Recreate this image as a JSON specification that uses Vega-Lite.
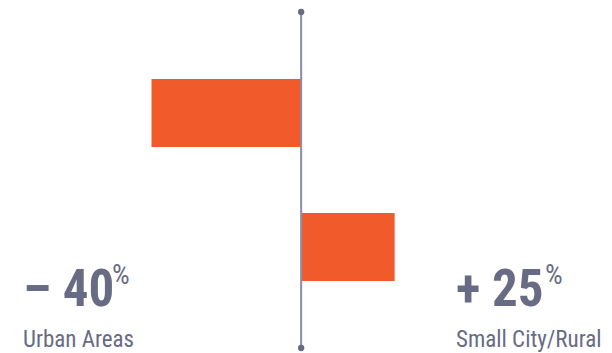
{
  "$schema": "https://vega.github.io/schema/vega-lite/v6.json",
  "width": 612,
  "height": 336,
  "autosize": {"type": "none"},
  "padding": {"top": 12, "left": 0, "right": 0, "bottom": 5},
  "background": "#ffffff",
  "config": {
    "view": {"stroke": null},
    "text": {"font": "Roboto Condensed, Liberation Sans Narrow, sans-serif", "color": "#686b84"}
  },
  "data": {
    "values": [
      {"area": "Urban Areas", "change": -40},
      {"area": "Small City/Rural", "change": 25}
    ]
  },
  "layer": [
    {
      "mark": {"type": "bar", "color": "#f15a2a"},
      "encoding": {
        "x": {"field": "change", "type": "quantitative", "scale": {"domain": [-80.5, 83.1], "nice": false, "zero": false}, "axis": null},
        "y": {"field": "area", "type": "nominal", "sort": ["Urban Areas", "Small City/Rural"], "scale": {"paddingInner": 0.4925, "paddingOuter": 0.5, "align": 0.5}, "axis": null}
      }
    },
    {
      "data": {"values": [{}]},
      "encoding": {
        "x": {"datum": 0, "type": "quantitative", "scale": {"domain": [-80.5, 83.1], "nice": false, "zero": false}, "axis": null}
      },
      "layer": [
        {
          "mark": {"type": "rule", "color": "#8a8ea6", "strokeWidth": 2},
          "encoding": {
            "y": {"datum": 0, "type": "quantitative", "scale": {"domain": [0, 1], "nice": false}, "axis": null},
            "y2": {"datum": 1}
          }
        },
        {
          "mark": {"type": "point", "filled": true, "color": "#666a85", "size": 40, "opacity": 1},
          "encoding": {
            "y": {"datum": 0, "type": "quantitative", "axis": null}
          }
        },
        {
          "mark": {"type": "point", "filled": true, "color": "#666a85", "size": 40, "opacity": 1},
          "encoding": {
            "y": {"datum": 1, "type": "quantitative", "axis": null}
          }
        }
      ]
    },
    {
      "transform": [
        {"calculate": "(datum.change < 0 ? '\u2013 ' : '+ ') + abs(datum.change)", "as": "figure"}
      ],
      "encoding": {
        "x": {"field": "area", "type": "nominal", "scale": {"type": "point", "domain": ["Urban Areas", "Small City/Rural"], "range": [23, 456], "padding": 0}, "axis": null}
      },
      "layer": [
        {
          "mark": {"type": "text", "align": "left", "baseline": "alphabetic", "fontSize": 51, "fontWeight": "bold"},
          "encoding": {
            "y": {"datum": "figure", "type": "nominal", "scale": {"type": "point", "domain": ["figure", "name"], "range": [294, 335], "padding": 0}, "axis": null},
            "text": {"field": "figure"}
          }
        },
        {
          "mark": {"type": "text", "align": "left", "baseline": "alphabetic", "fontSize": 28, "fontWeight": "normal", "dx": 89, "dy": -22},
          "encoding": {
            "y": {"datum": "figure", "type": "nominal", "axis": null},
            "text": {"value": "%"}
          }
        },
        {
          "mark": {"type": "text", "align": "left", "baseline": "alphabetic", "fontSize": 23},
          "encoding": {
            "y": {"datum": "name", "type": "nominal", "axis": null},
            "text": {"field": "area"}
          }
        }
      ]
    }
  ],
  "resolve": {"scale": {"x": "independent", "y": "independent"}}
}
